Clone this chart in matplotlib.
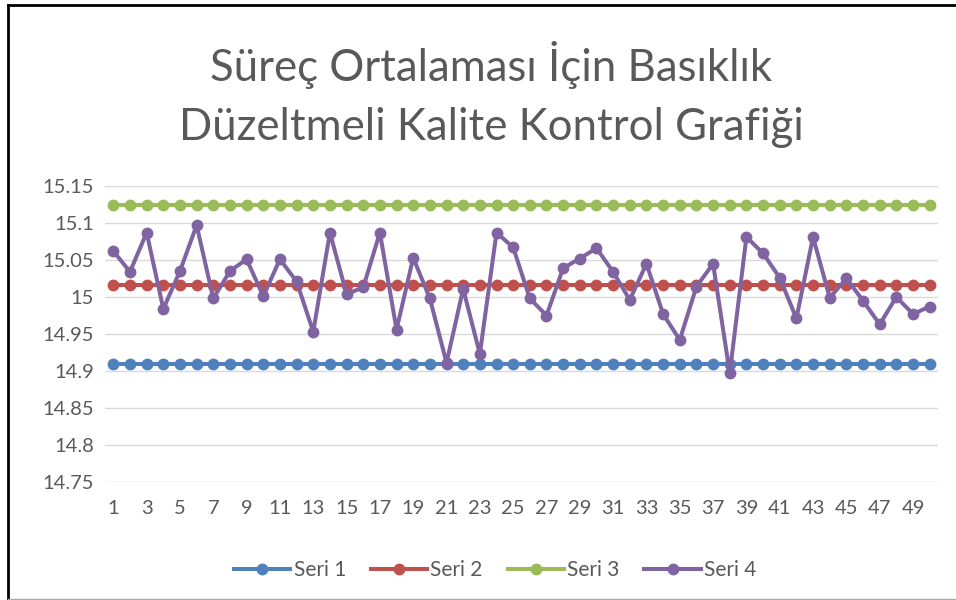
import numpy as np
import matplotlib
matplotlib.use("Agg")
import matplotlib.pyplot as plt
from matplotlib.lines import Line2D

plt.rcParams['font.family'] = ['Lato', 'DejaVu Sans']

# sample numbers 1..50
samples = np.arange(1, 51)

# control limits (constant series)
lcl = 14.909    # Seri 1
cl = 15.016     # Seri 2
ucl = 15.124    # Seri 3

# sample means (Seri 4)
seri4 = [15.062, 15.034, 15.087, 14.984, 15.035, 15.097, 14.998, 15.035, 15.051, 15.001,
         15.051, 15.021, 14.953, 15.087, 15.004, 15.013, 15.087, 14.956, 15.053, 14.998,
         14.911, 15.011, 14.923, 15.087, 15.067, 14.998, 14.975, 15.039, 15.052, 15.066,
         15.034, 14.996, 15.045, 14.977, 14.942, 15.014, 15.045, 14.897, 15.081, 15.059,
         15.026, 14.971, 15.081, 14.999, 15.025, 14.995, 14.963, 15.000, 14.977, 14.987]

series_names = ["Seri 1", "Seri 2", "Seri 3", "Seri 4"]
colors = ["#4F81BD", "#C0504D", "#9BBB59", "#8064A2"]
yticks = [14.75, 14.8, 14.85, 14.9, 14.95, 15, 15.05, 15.1, 15.15]
ytick_labels = ["14.75", "14.8", "14.85", "14.9", "14.95", "15", "15.05", "15.1", "15.15"]

fig = plt.figure(figsize=(9.56, 6), dpi=100)
W, H = 956, 600
ax = fig.add_axes([105 / W, 1 - 482 / H, (938 - 105) / W, (482 - 186) / H])

all_series = [np.full(50, lcl), np.full(50, cl), np.full(50, ucl), np.array(seri4)]
for name, vals, c in zip(series_names, all_series, colors):
    ax.plot(samples, vals, color=c, lw=2.9, marker="o", markersize=7.5, label=name)

ax.set_xlim(0.5, 50.5)
ax.set_ylim(14.75, 15.15)
ax.set_yticks(yticks)
ax.set_yticklabels(ytick_labels)
ax.set_xticks(samples[::2])
ax.grid(axis="y", color="#D9D9D9", lw=1)
ax.set_axisbelow(True)
for s in ax.spines.values():
    s.set_visible(False)
ax.tick_params(length=0, colors="#595959", labelsize=14.5)
ax.tick_params(axis="y", pad=8)
ax.tick_params(axis="x", pad=13)

fig.text(0.514, 1 - 65 / H, "Süreç Ortalaması İçin Basıklık", ha="center", va="center",
         fontsize=31.5, color="#595959")
fig.text(0.514, 1 - 127 / H, "Düzeltmeli Kalite Kontrol Grafiği", ha="center", va="center",
         fontsize=31.5, color="#595959")

fig.legend(loc="center", bbox_to_anchor=(0.518, 1 - 570 / H), ncol=4, frameon=False,
           fontsize=15, labelcolor="#595959", handlelength=2.7, handletextpad=0.15,
           columnspacing=1.2)

# frame around chart
fig.add_artist(Line2D([8 / W, 8 / W], [0, 1 - 5 / H], color="black", lw=2))
fig.add_artist(Line2D([8 / W, 1], [1 - 5 / H, 1 - 5 / H], color="black", lw=2))
fig.add_artist(Line2D([8 / W, 1], [1 - 599 / H, 1 - 599 / H], color="#AAAAAA", lw=1))

fig.savefig("out.png", dpi=100)
